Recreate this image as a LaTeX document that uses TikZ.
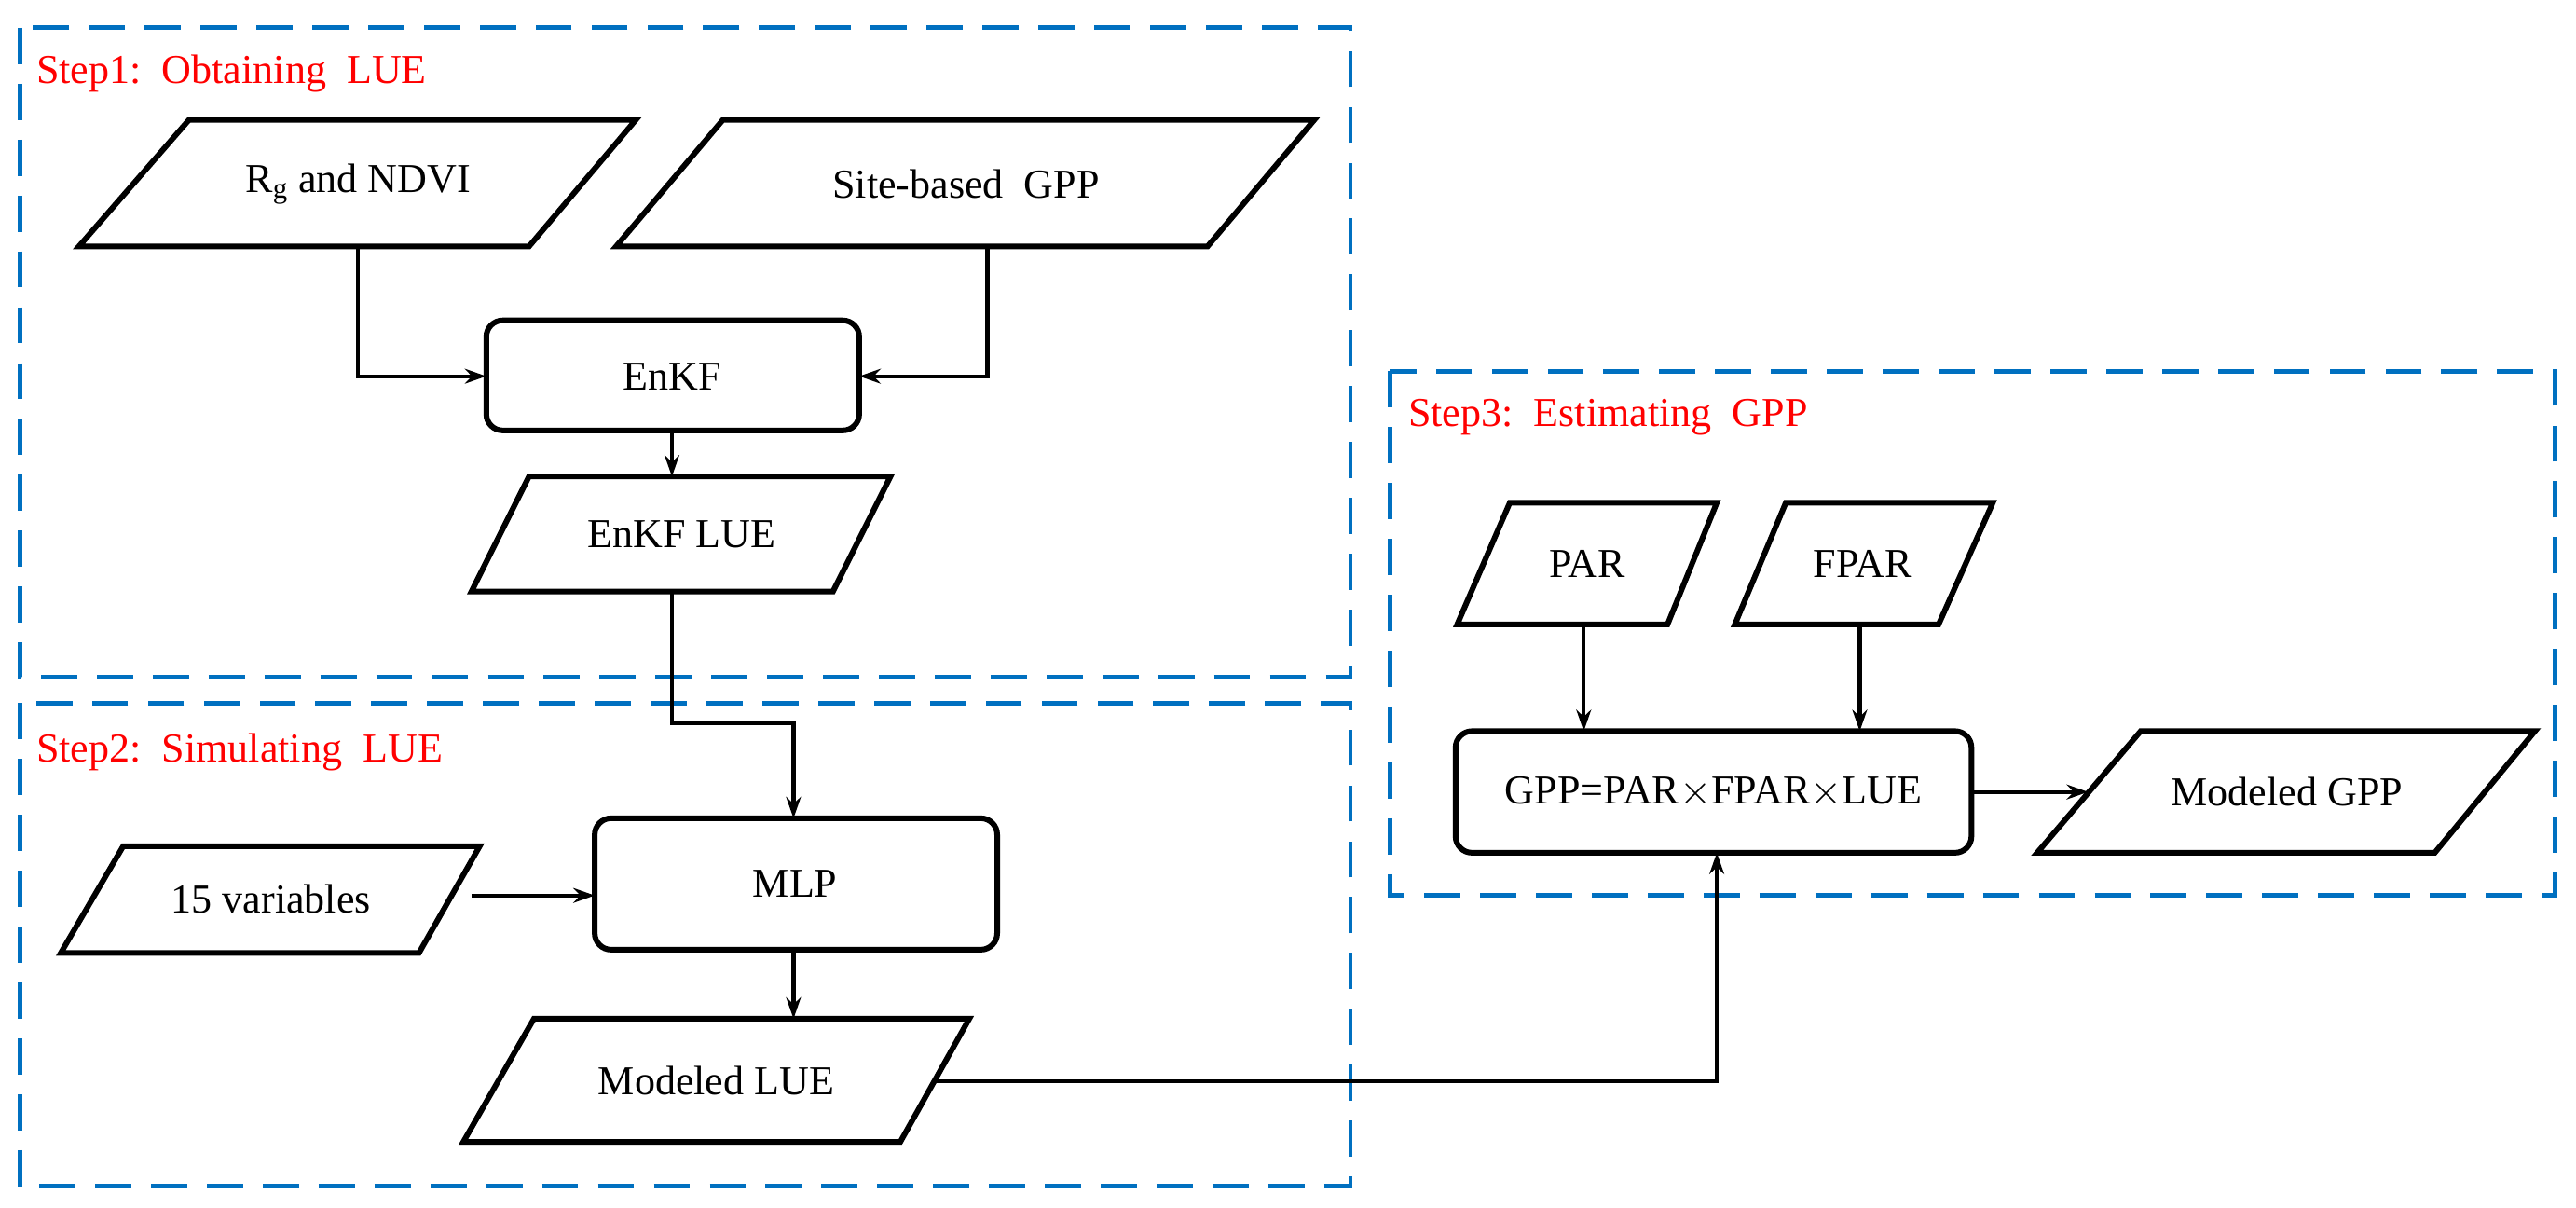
\documentclass[tikz,border=0pt]{standalone}
\usepackage{fontspec}
\setmainfont{Liberation Serif}
\usetikzlibrary{arrows.meta}
\definecolor{stepblue}{RGB}{0,112,192}
\begin{document}
\begin{tikzpicture}[x=1pt,y=-1pt,
  shp/.style={draw=black,line width=3.4pt,line join=miter,fill=white},
  rbox/.style={draw=black,line width=3.4pt,rounded corners=10pt},
  grp/.style={draw=stepblue,line width=2.8pt,dash pattern=on 22pt off 12pt},
  lbl/.style={font=\fontsize{25}{30}\selectfont},
  steplbl/.style={font=\fontsize{25}{30}\selectfont,text=red,anchor=west,inner sep=0},
  conn/.style={line width=2.4pt,-{Stealth[length=13pt,width=9pt]}}]
\useasboundingbox (0,0) rectangle (1568,735);
% groups
\draw[grp] (12,17) rectangle (822,412);
\draw[grp] (12,428) rectangle (822,722);
\draw[grp] (846,226) rectangle (1555,545);
\node[steplbl] (s1) at (22,45) {Step1:\ \ Obtaining\ \ LUE};
\node[steplbl] (s2) at (22,458) {Step2:\ \ Simulating\ \ LUE};
\node[steplbl] (s3) at (857,254) {Step3:\ \ Estimating\ \ GPP};
% parallelograms
\draw[shp] (115,73)--(387,73)--(322,150)--(48,150)--cycle;
\node[lbl] (rg) at (218,112) {R\textsubscript{g} and NDVI};
\draw[shp] (440,73)--(800,73)--(735,150)--(375,150)--cycle;
\node[lbl] (site) at (588,112) {Site-based\ \ GPP};
\draw[shp] (322,290)--(542,290)--(507,360)--(287,360)--cycle;
\node[lbl] (lue) at (415,325) {EnKF LUE};
\draw[shp] (75,515)--(292,515)--(255,580)--(37,580)--cycle;
\node[lbl] (v15) at (165,547) {15 variables};
\draw[shp] (325,620)--(590,620)--(548,695)--(282,695)--cycle;
\node[lbl] (mlue) at (436,658) {Modeled LUE};
\draw[shp] (919,306)--(1045,306)--(1015,380)--(887,380)--cycle;
\node[lbl] (par) at (966,343) {PAR};
\draw[shp] (1087,306)--(1213,306)--(1180,380)--(1056,380)--cycle;
\node[lbl] (fpar) at (1134,343) {FPAR};
\draw[shp] (1303,445)--(1543,445)--(1482,519)--(1240,519)--cycle;
\node[lbl] (mgpp) at (1392,482) {Modeled GPP};
% rounded boxes
\draw[rbox] (296,195) rectangle (523,262);
\node[lbl] (enkf) at (409,229) {EnKF};
\draw[rbox] (362,498) rectangle (607,578);
\node[lbl] (mlp) at (484,538) {MLP};
\draw[rbox] (886,445) rectangle (1200,519);
\node[lbl] (gpp) at (1043,482) {GPP=PAR$\times$FPAR$\times$LUE};
% anchor coordinates
\coordinate (rgB) at (218,150);
\coordinate (siteB) at (601,150);
\coordinate (enkfW) at (296,229);
\coordinate (enkfE) at (523,229);
\coordinate (enkfS) at (409,262);
\coordinate (lueT) at (409,290);
\coordinate (lueB) at (409,360);
\coordinate (mlpT) at (483,498);
\coordinate (mlpW) at (362,545);
\coordinate (mlpS) at (483,578);
\coordinate (v15E) at (287,545);
\coordinate (mlueT) at (483,620);
\coordinate (mlueE) at (569,658);
\coordinate (parB) at (964,380);
\coordinate (fparB) at (1132,380);
\coordinate (gppT1) at (964,445);
\coordinate (gppT2) at (1132,445);
\coordinate (gppS) at (1045,519);
\coordinate (gppE) at (1200,482);
\coordinate (mgppW) at (1271,482);
% connectors
\draw[conn] (rgB) |- (enkfW);
\draw[conn] (siteB) |- (enkfE);
\draw[conn] (enkfS) -- (lueT);
\draw[conn] (lueB) -- (409,440) -| (mlpT);
\draw[conn] (v15E) -- (mlpW);
\draw[conn] (mlpS) -- (mlueT);
\draw[conn] (mlueE) -| (gppS);
\draw[conn] (parB) -- (gppT1);
\draw[conn] (fparB) -- (gppT2);
\draw[conn] (gppE) -- (mgppW);
\end{tikzpicture}
\end{document}
